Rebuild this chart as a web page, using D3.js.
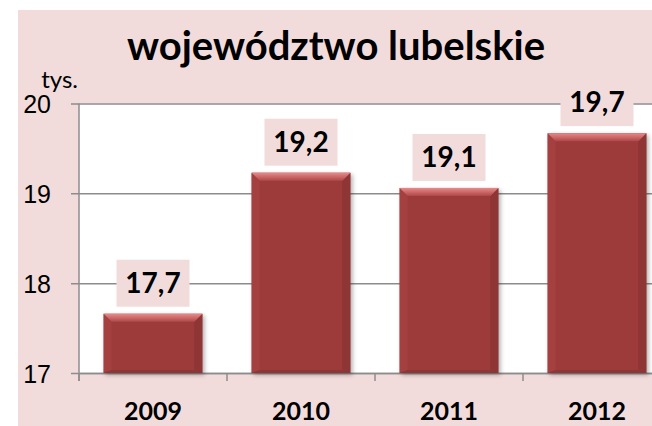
<!DOCTYPE html>
<html>
<head>
<meta charset="utf-8">
<script src="https://cdn.jsdelivr.net/npm/d3@7"></script>
<style>
  body { margin: 0; background: #fff; }
  svg { display: block; font-family: Lato, "Open Sans", sans-serif; }
</style>
</head>
<body>
<div id="chart"></div>
<script>
const title = 'województwo lubelskie';
const unit = 'tys.';
const years = ['2009', '2010', '2011', '2012'];
const values = [17.66, 19.23, 19.06, 19.67];
const valueLabels = ['17,7', '19,2', '19,1', '19,7'];
const yTicks = [17, 18, 19, 20];

const draw = (el) => {
  const dimensions = { width: 652, height: 426 };
  const plot = { left: 79, top: 103.5, right: 671, bottom: 373 };

  const svg = d3.select(el)
    .append('svg')
    .attr('width', dimensions.width)
    .attr('height', dimensions.height);

  const defs = svg.append('defs');
  const topGrad = defs.append('linearGradient')
    .attr('id', 'topGrad')
    .attr('x1', 0).attr('y1', 0).attr('x2', 0).attr('y2', 1);
  topGrad.append('stop').attr('offset', '0%').attr('stop-color', '#e88a8a');
  topGrad.append('stop').attr('offset', '100%').attr('stop-color', '#b04848');

  const shadow = defs.append('filter').attr('id', 'shadow')
    .attr('x', '-10%').attr('y', '-10%').attr('width', '130%').attr('height', '130%');
  shadow.append('feDropShadow')
    .attr('dx', 2).attr('dy', 2).attr('stdDeviation', 2)
    .attr('flood-color', '#000').attr('flood-opacity', 0.3);

  // background
  svg.append('rect')
    .attr('x', 18).attr('y', 10)
    .attr('width', dimensions.width - 18).attr('height', dimensions.height - 10)
    .attr('fill', '#f2dcdb');

  svg.append('rect')
    .attr('x', plot.left).attr('y', plot.top)
    .attr('width', plot.right - plot.left).attr('height', plot.bottom - plot.top)
    .attr('fill', '#fff');

  const x = d3.scaleBand()
    .domain(years)
    .range([plot.left, plot.right])
    .paddingInner(0.333)
    .paddingOuter(0.1665);

  const y = d3.scaleLinear()
    .domain([17, 20])
    .range([plot.bottom, plot.top]);

  // gridlines + y axis
  const yAxis = svg.append('g')
    .attr('transform', `translate(${plot.left},0)`)
    .call(d3.axisLeft(y)
      .tickValues(yTicks)
      .tickSize(-(plot.right - plot.left))
      .tickSizeOuter(0)
      .tickPadding(0)
      .tickFormat(''));
  yAxis.select('.domain').remove();
  yAxis.selectAll('.tick line')
    .attr('x1', -8)
    .attr('stroke', '#8c8c8c')
    .attr('stroke-width', 1.5);

  yAxis.selectAll('.tick')
    .append('text')
    .attr('x', -28)
    .attr('dy', '0.36em')
    .attr('text-anchor', 'end')
    .attr('fill', '#000')
    .attr('font-size', 25)
    .text(d => d);

  svg.append('line')
    .attr('x1', plot.left).attr('x2', plot.left)
    .attr('y1', plot.top).attr('y2', plot.bottom + 8)
    .attr('stroke', '#8c8c8c').attr('stroke-width', 1.5);

  // x axis ticks at band boundaries
  const xAxis = svg.append('g')
    .attr('transform', `translate(0,${plot.bottom})`)
    .call(d3.axisBottom(x).tickSize(0).tickPadding(29));
  xAxis.select('.domain')
    .attr('stroke', '#8c8c8c').attr('stroke-width', 1.5);
  xAxis.selectAll('.tick text')
    .attr('fill', '#000')
    .attr('font-size', 25)
    .attr('font-weight', 'bold')
    .attr('font-family', 'Lato, sans-serif');
  xAxis.selectAll('line.sep')
    .data(years)
    .join('line')
    .attr('class', 'sep')
    .attr('x1', d => x(d) - x.step() * x.paddingInner() / 2)
    .attr('x2', d => x(d) - x.step() * x.paddingInner() / 2)
    .attr('y1', 0).attr('y2', 8)
    .attr('stroke', '#8c8c8c').attr('stroke-width', 1.5);

  svg.append('text')
    .attr('x', 78).attr('y', 88)
    .attr('text-anchor', 'end')
    .attr('font-size', 24)
    .text(unit);

  // bars with bevel
  const b = 8;
  const bars = svg.append('g')
    .selectAll('g')
    .data(values)
    .join('g')
    .attr('filter', 'url(#shadow)');

  bars.append('rect')
    .attr('x', (_, i) => x(years[i]))
    .attr('y', d => y(d))
    .attr('width', x.bandwidth())
    .attr('height', d => y(17) - y(d))
    .attr('fill', '#9d3b3b');

  const poly = (pts) => pts.map(p => p.join(',')).join(' ');
  const edge = (d, i, side) => {
    const x0 = x(years[i]), x1 = x0 + x.bandwidth();
    const y0 = y(d), y1 = y(17);
    if (side === 'top') return poly([[x0, y0], [x1, y0], [x1 - b, y0 + b], [x0 + b, y0 + b]]);
    if (side === 'left') return poly([[x0, y0], [x0 + b, y0 + b], [x0 + b, y1 - 3], [x0, y1]]);
    if (side === 'right') return poly([[x1, y0], [x1 - b, y0 + b], [x1 - b, y1 - 3], [x1, y1]]);
    return poly([[x0, y1], [x0 + b, y1 - 3], [x1 - b, y1 - 3], [x1, y1]]);
  };
  bars.append('polygon').attr('points', (d, i) => edge(d, i, 'left')).attr('fill', '#a53f3f');
  bars.append('polygon').attr('points', (d, i) => edge(d, i, 'right')).attr('fill', '#8e3434');
  bars.append('polygon').attr('points', (d, i) => edge(d, i, 'bottom')).attr('fill', '#8e3434');
  bars.append('polygon').attr('points', (d, i) => edge(d, i, 'top')).attr('fill', 'url(#topGrad)');

  // data labels
  const labels = svg.append('g')
    .selectAll('g')
    .data(values)
    .join('g')
    .attr('transform', (d, i) => `translate(${x(years[i]) + x.bandwidth() / 2},${y(d) - 7})`);

  labels.append('rect')
    .attr('x', -36.5).attr('y', -47)
    .attr('width', 73).attr('height', 47)
    .attr('fill', '#f2dcdb');

  labels.append('text')
    .attr('y', -14)
    .attr('text-anchor', 'middle')
    .attr('font-size', 28)
    .attr('font-weight', 'bold')
    .text((_, i) => valueLabels[i]);

  svg.append('text')
    .attr('x', 336).attr('y', 60)
    .attr('text-anchor', 'middle')
    .attr('font-size', 40)
    .attr('font-weight', 'bold')
    .text(title);
};

draw('#chart');
</script>
</body>
</html>
